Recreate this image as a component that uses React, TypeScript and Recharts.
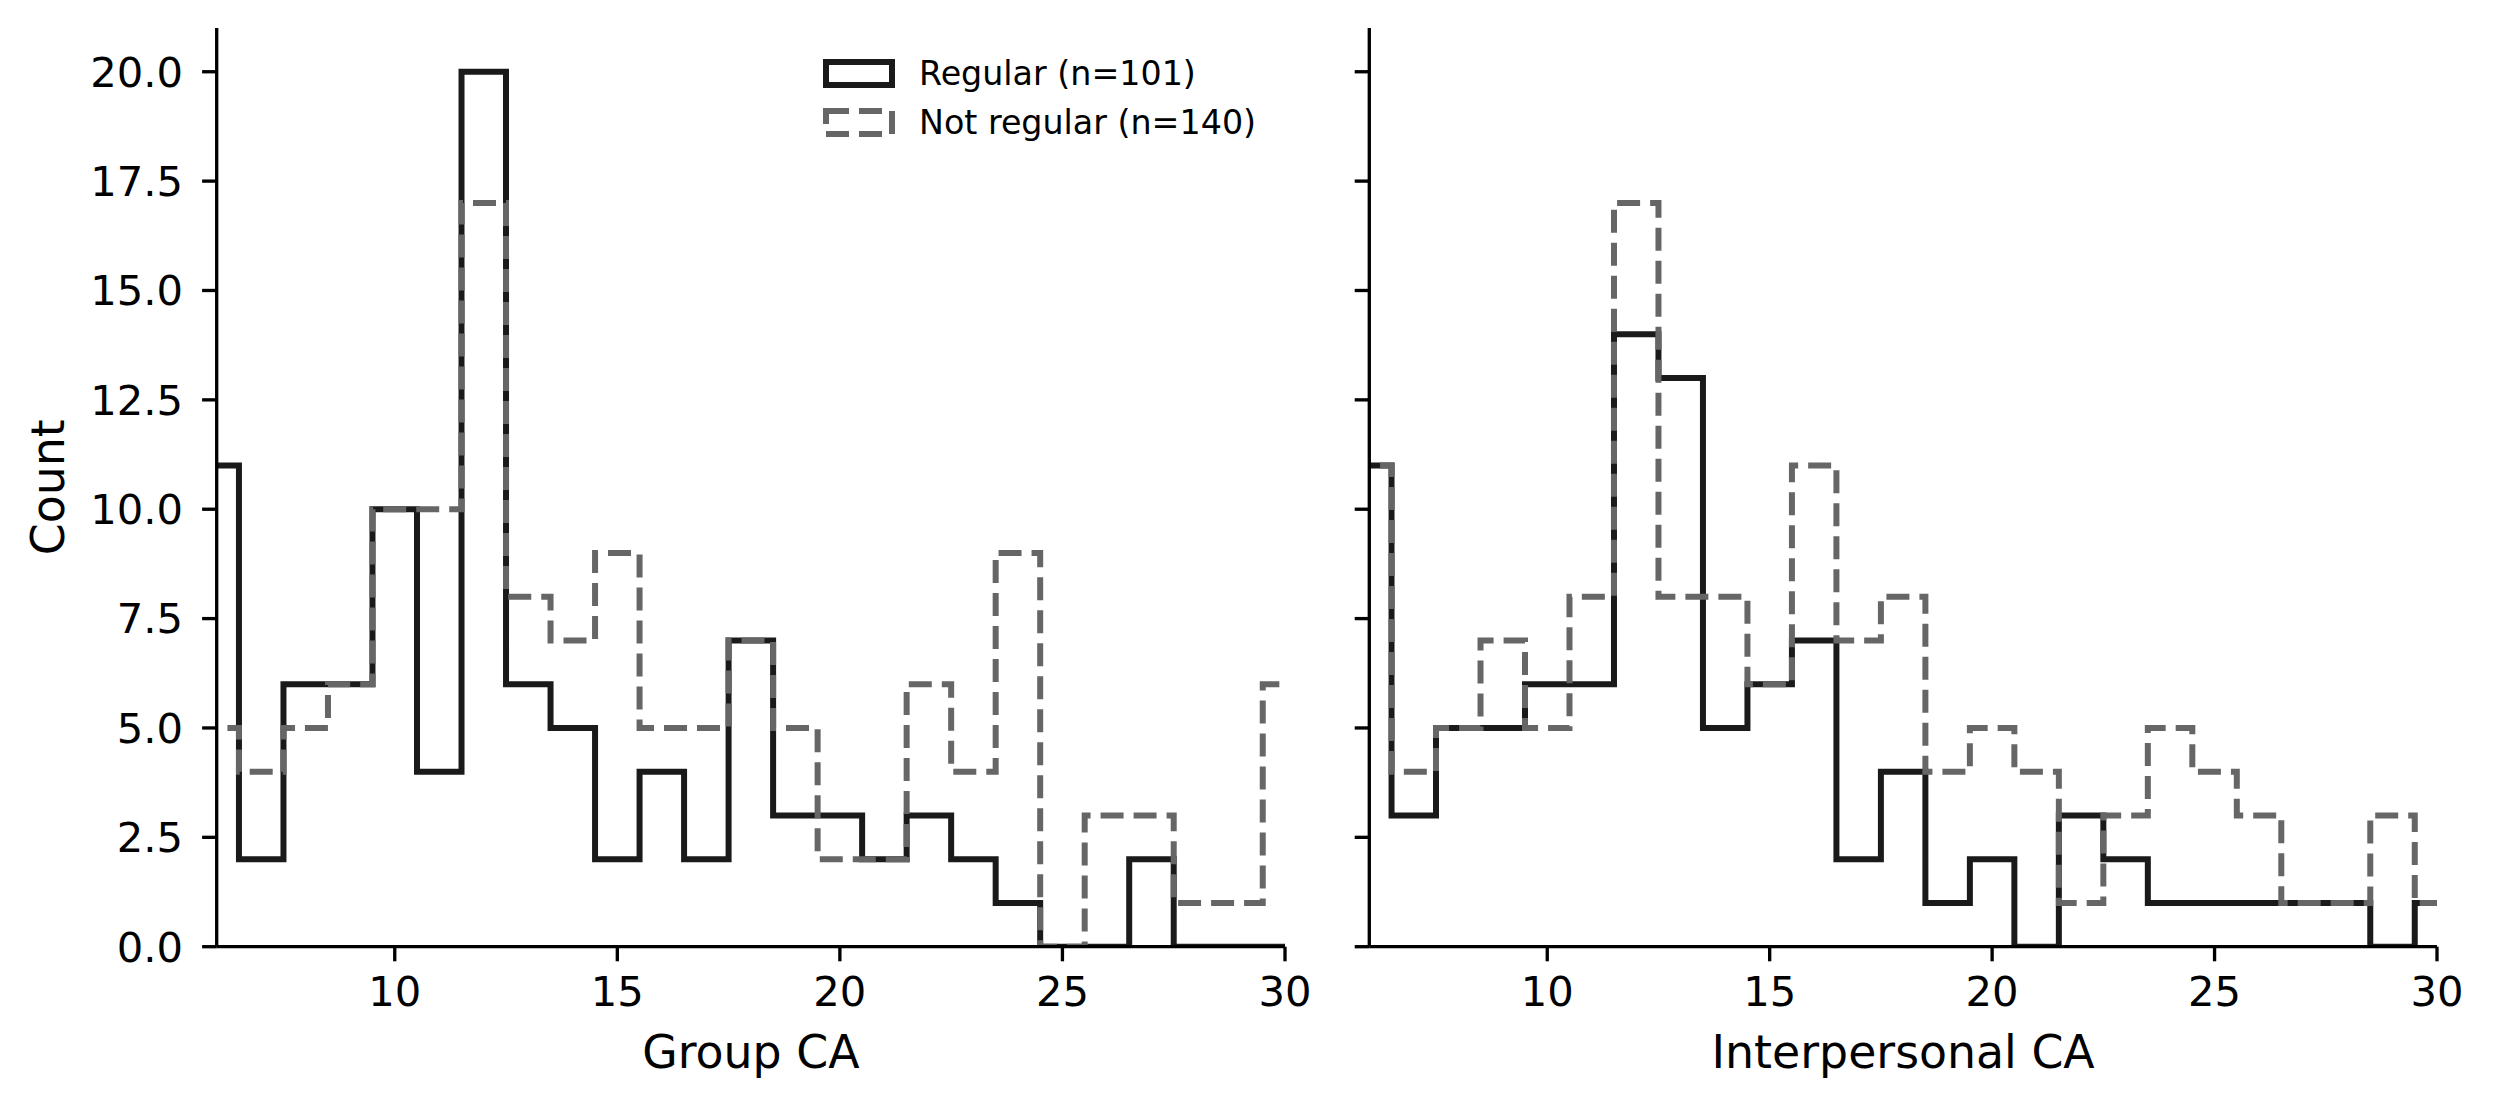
import { LineChart, Line, XAxis, YAxis, Legend } from "recharts";

// bin edges of the histograms (unit-wide bins centred on integers)
const binEdges = [
  5.5, 6.5, 7.5, 8.5, 9.5, 10.5, 11.5, 12.5, 13.5, 14.5, 15.5, 16.5, 17.5,
  18.5, 19.5, 20.5, 21.5, 22.5, 23.5, 24.5, 25.5, 26.5, 27.5, 28.5, 29.5, 30.5,
];

// counts per bin, Group CA
const groupRegular = [11, 2, 6, 6, 10, 4, 20, 6, 5, 2, 4, 2, 7, 3, 3, 2, 3, 2, 1, 0, 0, 2, 0, 0, 0];
const groupNotRegular = [5, 4, 5, 6, 10, 10, 17, 8, 7, 9, 5, 5, 7, 5, 2, 2, 6, 4, 9, 0, 3, 3, 1, 1, 6];

// counts per bin, Interpersonal CA
const interRegular = [11, 3, 5, 5, 6, 6, 14, 13, 5, 6, 7, 2, 4, 1, 2, 0, 3, 2, 1, 1, 1, 1, 1, 0, 1];
const interNotRegular = [11, 4, 5, 7, 5, 8, 17, 8, 8, 6, 11, 7, 8, 4, 5, 4, 1, 3, 5, 4, 3, 1, 1, 3, 1];

const xTicks = [10, 15, 20, 25, 30];
const yTicks = [0, 2.5, 5, 7.5, 10, 12.5, 15, 17.5, 20];
const seriesNames = ["Regular (n=101)", "Not regular (n=140)"];
const xLabels = ["Group CA", "Interpersonal CA"];

const FONT = "DejaVu Sans";
const BLACK = "#1a1a1a";
const GRAY = "#666666";
const DASH = "23 10";
const seriesColors = [BLACK, GRAY];
const seriesDashes = [undefined, DASH];

const buildRows = (regular: number[], notRegular: number[]) =>
  binEdges.map((x, i) => ({
    x,
    regular: regular[i] ?? 0,
    notRegular: notRegular[i] ?? 0,
  }));

// legend drawn in series order (recharts sorts payload by name otherwise)
const renderLegend = () => (
  <svg width={460} height={100} style={{ display: "block" }}>
    {seriesNames.map((name, i) => {
      const cy = 23.5 + i * 49;
      return (
        <g key={name}>
          <rect
            x={11}
            y={cy - 11.5}
            width={66}
            height={23}
            fill="none"
            stroke={seriesColors[i]}
            strokeWidth={6}
            strokeDasharray={seriesDashes[i]}
          />
          <text
            x={104}
            y={cy}
            dominantBaseline="central"
            fontSize={33.3}
            fontFamily={FONT}
            fill="#000"
          >
            {name}
          </text>
        </g>
      );
    })}
  </svg>
);

interface PanelProps {
  rows: { x: number; regular: number; notRegular: number }[];
  xLabel: string;
  left: number;
  width: number;
  yAxisWidth: number;
  marginRight: number;
  first: boolean;
}

function Panel({ rows, xLabel, left, width, yAxisWidth, marginRight, first }: PanelProps) {
  const axisStroke = { stroke: "#000", strokeWidth: 3.33 };
  const tickStyle = { fontSize: 41.7, fill: "#000", fontFamily: FONT };

  return (
    <div style={{ position: "absolute", left, top: 0 }}>
      <LineChart
        width={width}
        height={1110}
        data={rows}
        margin={{ top: 28, right: marginRight, bottom: 0, left: 0 }}
        style={{ fontFamily: FONT }}
      >
        <XAxis
          type="number"
          dataKey="x"
          domain={[6, 30]}
          allowDataOverflow
          ticks={xTicks}
          interval={0}
          height={163.3}
          tickSize={14.6}
          tickMargin={15}
          axisLine={axisStroke}
          tickLine={axisStroke}
          tick={tickStyle}
          label={(p: any) => (
            <text
              x={p.viewBox.x + p.viewBox.width / 2}
              y={p.viewBox.y + 121.3}
              textAnchor="middle"
              fontSize={45.8}
              fontFamily={FONT}
              fill="#000"
            >
              {xLabel}
            </text>
          )}
        />
        <YAxis
          type="number"
          domain={[0, 21]}
          allowDataOverflow
          ticks={yTicks}
          interval={0}
          width={yAxisWidth}
          tickSize={14.6}
          tickMargin={19}
          axisLine={axisStroke}
          tickLine={axisStroke}
          tick={tickStyle}
          tickFormatter={(v: number) => (first ? v.toFixed(1) : "")}
          label={
            first
              ? (p: any) => {
                  const x = p.viewBox.x + 64;
                  const y = p.viewBox.y + p.viewBox.height / 2;
                  return (
                    <text
                      x={x}
                      y={y}
                      transform={`rotate(-90 ${x} ${y})`}
                      textAnchor="middle"
                      fontSize={45.8}
                      fontFamily={FONT}
                      fill="#000"
                    >
                      Count
                    </text>
                  );
                }
              : undefined
          }
        />
        {first && (
          <Legend
            layout="vertical"
            align="center"
            verticalAlign="middle"
            content={renderLegend}
            wrapperStyle={{ left: 815, top: 50, width: 460 }}
          />
        )}
        <Line
          type="stepAfter"
          dataKey="regular"
          name={seriesNames[0]}
          stroke={BLACK}
          strokeWidth={6}
          strokeLinejoin="miter"
          dot={false}
          activeDot={false}
          isAnimationActive={false}
        />
        <Line
          type="stepAfter"
          dataKey="notRegular"
          name={seriesNames[1]}
          stroke={GRAY}
          strokeWidth={6}
          strokeDasharray={DASH}
          strokeLinejoin="miter"
          dot={false}
          activeDot={false}
          isAnimationActive={false}
        />
      </LineChart>
    </div>
  );
}

export default function App() {
  return (
    <div
      style={{
        position: "fixed",
        left: 0,
        top: 0,
        width: 2493,
        height: 1110,
        background: "#fff",
        overflow: "hidden",
      }}
    >
      <Panel
        rows={buildRows(groupRegular, groupNotRegular)}
        xLabel={xLabels[0]}
        left={0}
        width={1340}
        yAxisWidth={216.7}
        marginRight={55}
        first
      />
      <Panel
        rows={buildRows(interRegular, interNotRegular)}
        xLabel={xLabels[1]}
        left={1290}
        width={1203}
        yAxisWidth={79.3}
        marginRight={56}
        first={false}
      />
    </div>
  );
}
